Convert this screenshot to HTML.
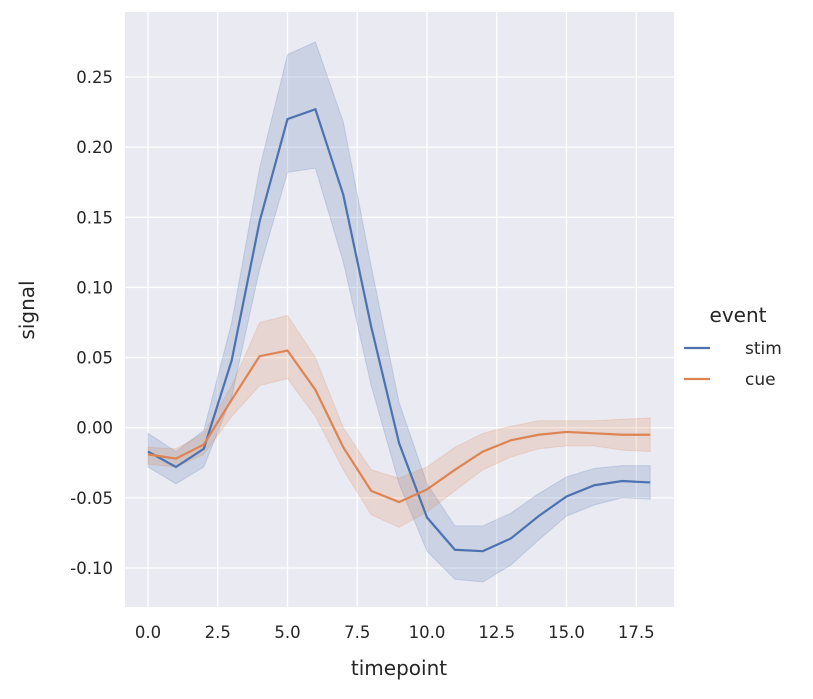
<!DOCTYPE html>
<html><head><meta charset="utf-8"><style>
body{margin:0;background:#fff;}
svg{font-family:"DejaVu Sans","Liberation Sans",sans-serif;}
</style></head><body>
<svg width="813" height="694">
<g id="root"></g>
</svg>
<script>
const timepoints=[0,1,2,3,4,5,6,7,8,9,10,11,12,13,14,15,16,17,18];
const stimMean=[-0.017,-0.028,-0.015,0.048,0.147,0.220,0.227,0.166,0.072,-0.011,-0.064,-0.087,-0.088,-0.079,-0.063,-0.049,-0.041,-0.038,-0.039];
const stimUpper=[-0.004,-0.017,-0.002,0.075,0.185,0.266,0.275,0.218,0.115,0.018,-0.040,-0.070,-0.070,-0.061,-0.047,-0.035,-0.029,-0.027,-0.027];
const stimLower=[-0.028,-0.040,-0.028,0.022,0.113,0.182,0.185,0.118,0.030,-0.040,-0.088,-0.108,-0.110,-0.098,-0.080,-0.063,-0.055,-0.050,-0.051];
const cueMean=[-0.019,-0.022,-0.012,0.020,0.051,0.055,0.027,-0.014,-0.045,-0.053,-0.044,-0.030,-0.017,-0.009,-0.005,-0.003,-0.004,-0.005,-0.005];
const cueUpper=[-0.014,-0.015,-0.004,0.030,0.075,0.080,0.050,0.000,-0.030,-0.036,-0.028,-0.014,-0.004,0.001,0.005,0.005,0.005,0.006,0.007];
const cueLower=[-0.026,-0.028,-0.019,0.008,0.030,0.035,0.008,-0.030,-0.062,-0.071,-0.060,-0.045,-0.030,-0.021,-0.015,-0.013,-0.013,-0.016,-0.017];
const xTicks=[0,2.5,5,7.5,10,12.5,15,17.5];
const yTicks=[-0.10,-0.05,0.00,0.05,0.10,0.15,0.20,0.25];

const NS="http://www.w3.org/2000/svg";
const root=document.getElementById('root');
const X=v=>148+v*27.9;
const Y=v=>77+(0.25-v)*1402.9;
function mk(tag,attrs,parent){const e=document.createElementNS(NS,tag);for(const k in attrs)e.setAttribute(k,attrs[k]);(parent||root).appendChild(e);return e;}
const bg=mk('rect',{x:125,y:12,width:549,height:595,fill:'#eaeaf2'});


xTicks.forEach(t=>{
  const l=mk('line',{x1:X(t),x2:X(t),y1:12,y2:607,stroke:'#fff','stroke-width':1.3});
  
  
  const tx=mk('text',{x:X(t),y:638,'text-anchor':'middle','font-size':16.5,fill:'#262626'});
  tx.textContent=t.toFixed(1);
  
  
});
yTicks.forEach(t=>{
  const l=mk('line',{x1:125,x2:674,y1:Y(t),y2:Y(t),stroke:'#fff','stroke-width':1.3});
  
  
  const tx=mk('text',{x:113,y:Y(t)+6,'text-anchor':'end','font-size':16.5,fill:'#262626'});
  tx.textContent=t.toFixed(2);
  
  
});
function band(lo,hi,color,name){
  let d='M'+timepoints.map((t,i)=>X(t)+','+Y(hi[i])).join('L');
  d+='L'+timepoints.slice().reverse().map((t,j)=>{const i=timepoints.length-1-j;return X(t)+','+Y(lo[i]);}).join('L')+'Z';
  const p=mk('path',{d:d,fill:color,'fill-opacity':0.2,stroke:color,'stroke-opacity':0.2});
  
  
}
function line(m,color,name){
  const p=mk('polyline',{points:timepoints.map((t,i)=>X(t)+','+Y(m[i])).join(' '),fill:'none',stroke:color,'stroke-width':2.2});
  
  
}
band(stimLower,stimUpper,'#4c72b0','stim-ci-band');
band(cueLower,cueUpper,'#dd8452','cue-ci-band');
line(stimMean,'#4c72b0','stim-line');
line(cueMean,'#dd8452','cue-line');
const xl=mk('text',{x:399,y:675,'text-anchor':'middle','font-size':20,fill:'#262626'});
xl.textContent='timepoint';


const yl=mk('text',{x:0,y:0,'text-anchor':'middle','font-size':20,fill:'#262626',transform:'translate(34,310) rotate(-90)'});
yl.textContent='signal';


const lt=mk('text',{x:738,y:322,'text-anchor':'middle','font-size':20,fill:'#262626'});
lt.textContent='event';


[['stim','#4c72b0',348],['cue','#dd8452',379]].forEach(([n,c,y])=>{
  const g=mk('g',{});
  
  
  mk('line',{x1:684,x2:710,y1:y,y2:y,stroke:c,'stroke-width':2.2},g);
  const t=mk('text',{x:745,y:y+6,'font-size':17,fill:'#262626'},g);
  t.textContent=n;
});
</script>
</body></html>
